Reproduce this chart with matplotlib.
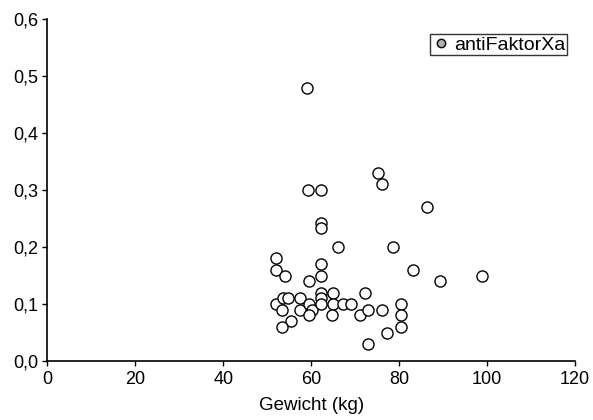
import matplotlib
matplotlib.use("Agg")
import matplotlib.pyplot as plt
from matplotlib.lines import Line2D
from matplotlib.ticker import FuncFormatter

weight = [52, 52, 54, 52, 53.5, 54.7, 57.5, 53.3, 57.5, 55.4, 53.4,
          59.6, 59.6, 60.2, 59.4, 59, 59.3, 62.3, 62.3, 62.3, 62.3, 62.3,
          62.3, 62.3, 62.3, 64.9, 64.9, 64.8, 66.2, 67.2, 69, 71, 72.3,
          73, 73, 75.1, 76.2, 76.2, 77.3, 78.6, 80.4, 80.4, 80.4, 83.2,
          86.3, 89.3, 98.8]
anti_xa = [0.18, 0.16, 0.15, 0.10, 0.11, 0.11, 0.11, 0.09, 0.09, 0.07, 0.06,
           0.14, 0.10, 0.09, 0.08, 0.48, 0.30, 0.30, 0.242, 0.233, 0.17, 0.15,
           0.12, 0.11, 0.10, 0.12, 0.10, 0.08, 0.20, 0.10, 0.10, 0.08, 0.12,
           0.09, 0.03, 0.33, 0.31, 0.09, 0.05, 0.20, 0.10, 0.08, 0.06, 0.16,
           0.27, 0.14, 0.15]
x_ticks = [0, 20, 40, 60, 80, 100, 120]
y_ticks = [0.0, 0.1, 0.2, 0.3, 0.4, 0.5, 0.6]
series_name = "antiFaktorXa"
x_label = "Gewicht (kg)"

plt.rcParams['font.family'] = ['Liberation Sans', 'DejaVu Sans']

fig = plt.figure(figsize=(5.93, 4.2), dpi=100)
ax = fig.add_axes([0.0798, 0.1405, 0.8898, 0.8135])

ax.plot(weight, anti_xa, linestyle='none', marker='o', markersize=8,
        markerfacecolor='white', markeredgecolor='black', markeredgewidth=1.0,
        clip_on=False)

ax.set_xlim(0, 120)
ax.set_ylim(0, 0.6)
ax.set_xticks(x_ticks)
ax.set_yticks(y_ticks)
ax.yaxis.set_major_formatter(FuncFormatter(lambda v, p: f"{v:.1f}".replace('.', ',')))
ax.tick_params(direction='out', length=3.5, width=1, labelsize=13, colors='black')
ax.tick_params(axis='x', pad=4)
ax.tick_params(axis='y', pad=3)
ax.spines['top'].set_visible(False)
ax.spines['right'].set_visible(False)
for s in ('left', 'bottom'):
    ax.spines[s].set_linewidth(1.2)
ax.set_xlabel(x_label, fontsize=13.5, labelpad=6)

handle = Line2D([], [], linestyle='none', marker='o', markersize=6,
                markerfacecolor='#b0b0b0', markeredgecolor='black', markeredgewidth=1.0)
leg = ax.legend([handle], [series_name], loc='upper right',
                bbox_to_anchor=(0.984, 0.956), fontsize=14, frameon=True,
                fancybox=False, borderpad=0.08, handletextpad=0.15,
                handlelength=1.0, borderaxespad=0)
leg.get_frame().set_edgecolor('black')
leg.get_frame().set_linewidth(1.0)

fig.savefig("out.png", dpi=100)
